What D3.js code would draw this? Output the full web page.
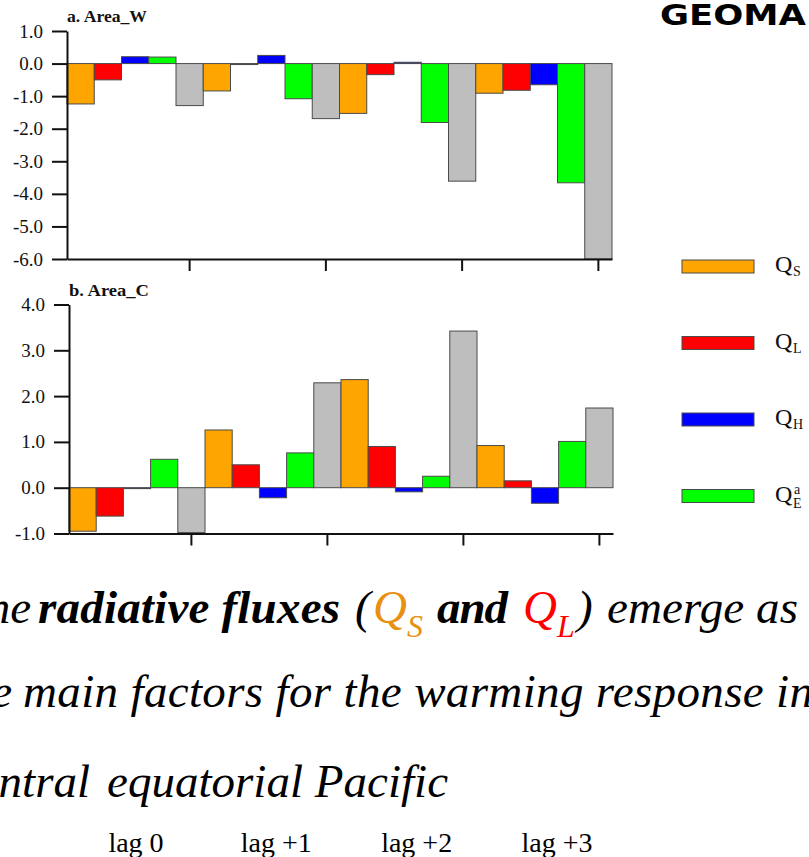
<!DOCTYPE html>
<html>
<head>
<meta charset="utf-8">
<script src="https://cdn.jsdelivr.net/npm/d3@7/dist/d3.min.js"></script>
<style>
body{margin:0;background:#fff;overflow:hidden;}
svg{display:block;}
.axis path,.axis line{stroke:#111;stroke-width:2;}
.title{font-family:"Liberation Serif","Times New Roman",serif;font-weight:bold;font-size:17px;fill:#111;}
.bar{stroke:#4a4a4a;stroke-width:1;}
.big{font-family:"Liberation Serif","Times New Roman",serif;font-style:italic;font-size:47px;fill:#000;}
.lag{font-family:"Liberation Serif","Times New Roman",serif;font-size:28px;fill:#000;}
</style>
</head>
<body>
<svg id="chart"></svg>
<script>
// data
var lags = ["lag 0","lag +1","lag +2","lag +3"];
var fluxes = ["QS","QL","QH","QE","sum"];
var fluxColors = ["#ffa500","#ff0000","#0000ff","#00ff00","#bebebe"];

var areaW_QS  = [-1.24,-0.84,-1.53,-0.91];
var areaW_QL  = [-0.50,-0.03,-0.34,-0.82];
var areaW_QH  = [ 0.21, 0.25, 0.04,-0.65];
var areaW_QE  = [ 0.20,-1.08,-1.81,-3.66];
var areaW_sum = [-1.29,-1.69,-3.61,-6.00];
var areaW_ticks = [1,0,-1,-2,-3,-4,-5,-6];

var areaC_QS  = [-0.95, 1.26, 2.36, 0.92];
var areaC_QL  = [-0.62, 0.50, 0.90, 0.15];
var areaC_QH  = [-0.02,-0.22,-0.09,-0.34];
var areaC_QE  = [ 0.62, 0.76, 0.25, 1.01];
var areaC_sum = [-0.98, 2.29, 3.42, 1.74];
var areaC_ticks = [4,3,2,1,0,-1];

var legendSubs = ["S","L","H","E"];

var makeRows = function(series)
{
    var rows = [];
    lags.forEach(function(lag,i)
    {
        series.forEach(function(values,j)
        {
            rows.push({key:i*fluxes.length+j,lag:lag,flux:fluxes[j],color:fluxColors[j],value:values[i]});
        })
    })
    return rows;
}

var svg = d3.select("#chart")
    .attr("width",809)
    .attr("height",857)

var drawPanel = function(rows,ticks,title,box)
{
    var xScale = d3.scaleBand()
        .domain(rows.map(function(d){return d.key}))
        .range([box.left,box.right])
        .padding(0)

    var yScale = d3.scaleLinear()
        .domain([d3.min(ticks),d3.max(ticks)])
        .range([box.bottom,box.top])

    var panel = svg.append("g")

    panel.selectAll("rect")
        .data(rows)
        .enter()
        .append("rect")
        .classed("bar",true)
        .attr("x",function(d){return xScale(d.key)})
        .attr("y",function(d){return Math.min(yScale(d.value),yScale(0))})
        .attr("width",xScale.bandwidth())
        .attr("height",function(d){return Math.abs(yScale(d.value)-yScale(0))})
        .attr("fill",function(d){return d.color})

    // ticks sit under the last bar of each lag
    var lastKeys = rows.filter(function(d){return d.flux=="sum"}).map(function(d){return d.key})
    var xAxis = d3.axisBottom(xScale)
        .tickValues(lastKeys)
        .tickFormat("")
        .tickSize(12)
        .tickSizeOuter(0)
    var yAxis = d3.axisLeft(yScale)
        .tickValues(ticks)
        .tickFormat(function(d){return d.toFixed(1)})
        .tickSize(15)
        .tickPadding(9)
        .tickSizeOuter(0)

    panel.append("g")
        .classed("axis",true)
        .attr("transform","translate(0,"+box.bottom+")")
        .call(xAxis)
    panel.append("g")
        .classed("axis",true)
        .attr("transform","translate("+box.left+",0)")
        .call(yAxis)
        .selectAll("text")
        .style("font-family","'Liberation Serif','Times New Roman',serif")
        .style("font-size","19px")
        .style("fill","#111")

    panel.append("text")
        .classed("title",true)
        .text(title)
        .attr("x",box.left)
        .attr("y",box.top-9)
        .attr("textLength",80)
        .attr("lengthAdjust","spacingAndGlyphs")
}

drawPanel(makeRows([areaW_QS,areaW_QL,areaW_QH,areaW_QE,areaW_sum]),areaW_ticks,"a. Area_W",
    {left:67,right:612,top:31,bottom:259})
drawPanel(makeRows([areaC_QS,areaC_QL,areaC_QH,areaC_QE,areaC_sum]),areaC_ticks,"b. Area_C",
    {left:69,right:613,top:304.5,bottom:533.5})

//legend
var legendY = d3.scalePoint()
    .domain(legendSubs)
    .range([260,489.5])

var legend = svg.append("g")
    .style("font-family","'Liberation Serif','Times New Roman',serif")
    .style("fill","#111")
var entries = legend.selectAll("g")
    .data(legendSubs)
    .enter()
    .append("g")
    .attr("transform",function(d){return "translate(0,"+legendY(d)+")"})
entries.append("rect")
    .classed("bar",true)
    .attr("x",682)
    .attr("width",72)
    .attr("height",13)
    .attr("fill",function(d,i){return fluxColors[i]})
entries.append("text")
    .text("Q")
    .attr("x",775)
    .attr("y",12)
    .style("font-size","24px")
entries.append("text")
    .text(function(d){return d})
    .attr("x",793)
    .attr("y",function(d){return d=="E" ? 18 : 16})
    .style("font-size","14px")
entries.filter(function(d){return d=="E"})
    .append("text")
    .text("a")
    .attr("x",794)
    .attr("y",4)
    .style("font-size","14px")

//logo
svg.append("text")
    .text("GEOMA")
    .attr("x",660)
    .attr("y",25)
    .attr("textLength",146)
    .attr("lengthAdjust","spacingAndGlyphs")
    .style("font-family","'DejaVu Sans',sans-serif")
    .style("font-weight","bold")
    .style("font-size","28px")

//caption
var caption = svg.append("g")
var words = function(str,x,y,opts)
{
    var t = caption.append("text")
        .classed("big",true)
        .text(str)
        .attr("x",x)
        .attr("y",y)
    if(opts.bold) t.style("font-weight","bold")
    if(opts.color) t.style("fill",opts.color)
    if(opts.size) t.style("font-size",opts.size+"px")
    if(opts.anchor) t.attr("text-anchor",opts.anchor)
    if(opts.len) t.attr("textLength",opts.len).attr("lengthAdjust","spacing")
    return t
}
words("The",31,623,{anchor:"end"})
words("radiative fluxes",38,623,{bold:true,len:302})
words("(",355,623,{})
words("Q",373,623,{color:"#e8900f"})
words("S",407,637,{color:"#e8900f",size:32})
words("and",437,623,{bold:true,len:71})
words("Q",523,623,{color:"#ff0000"})
words("L",557,637,{color:"#ff0000",size:32})
words(")",577,623,{})
words("emerge as",607,623,{len:191})

words("the",12,707,{anchor:"end"})
words("main factors for the warming response in",23,707,{len:790})

words("central",90,797,{anchor:"end"})
words("equatorial Pacific",107,797,{len:341})

var lagX = d3.scalePoint()
    .domain(lags)
    .range([136,557])
svg.selectAll(".lag")
    .data(lags)
    .enter()
    .append("text")
    .classed("lag",true)
    .text(function(d){return d})
    .attr("x",function(d){return lagX(d)})
    .attr("y",852)
    .attr("text-anchor","middle")
</script>
</body>
</html>
